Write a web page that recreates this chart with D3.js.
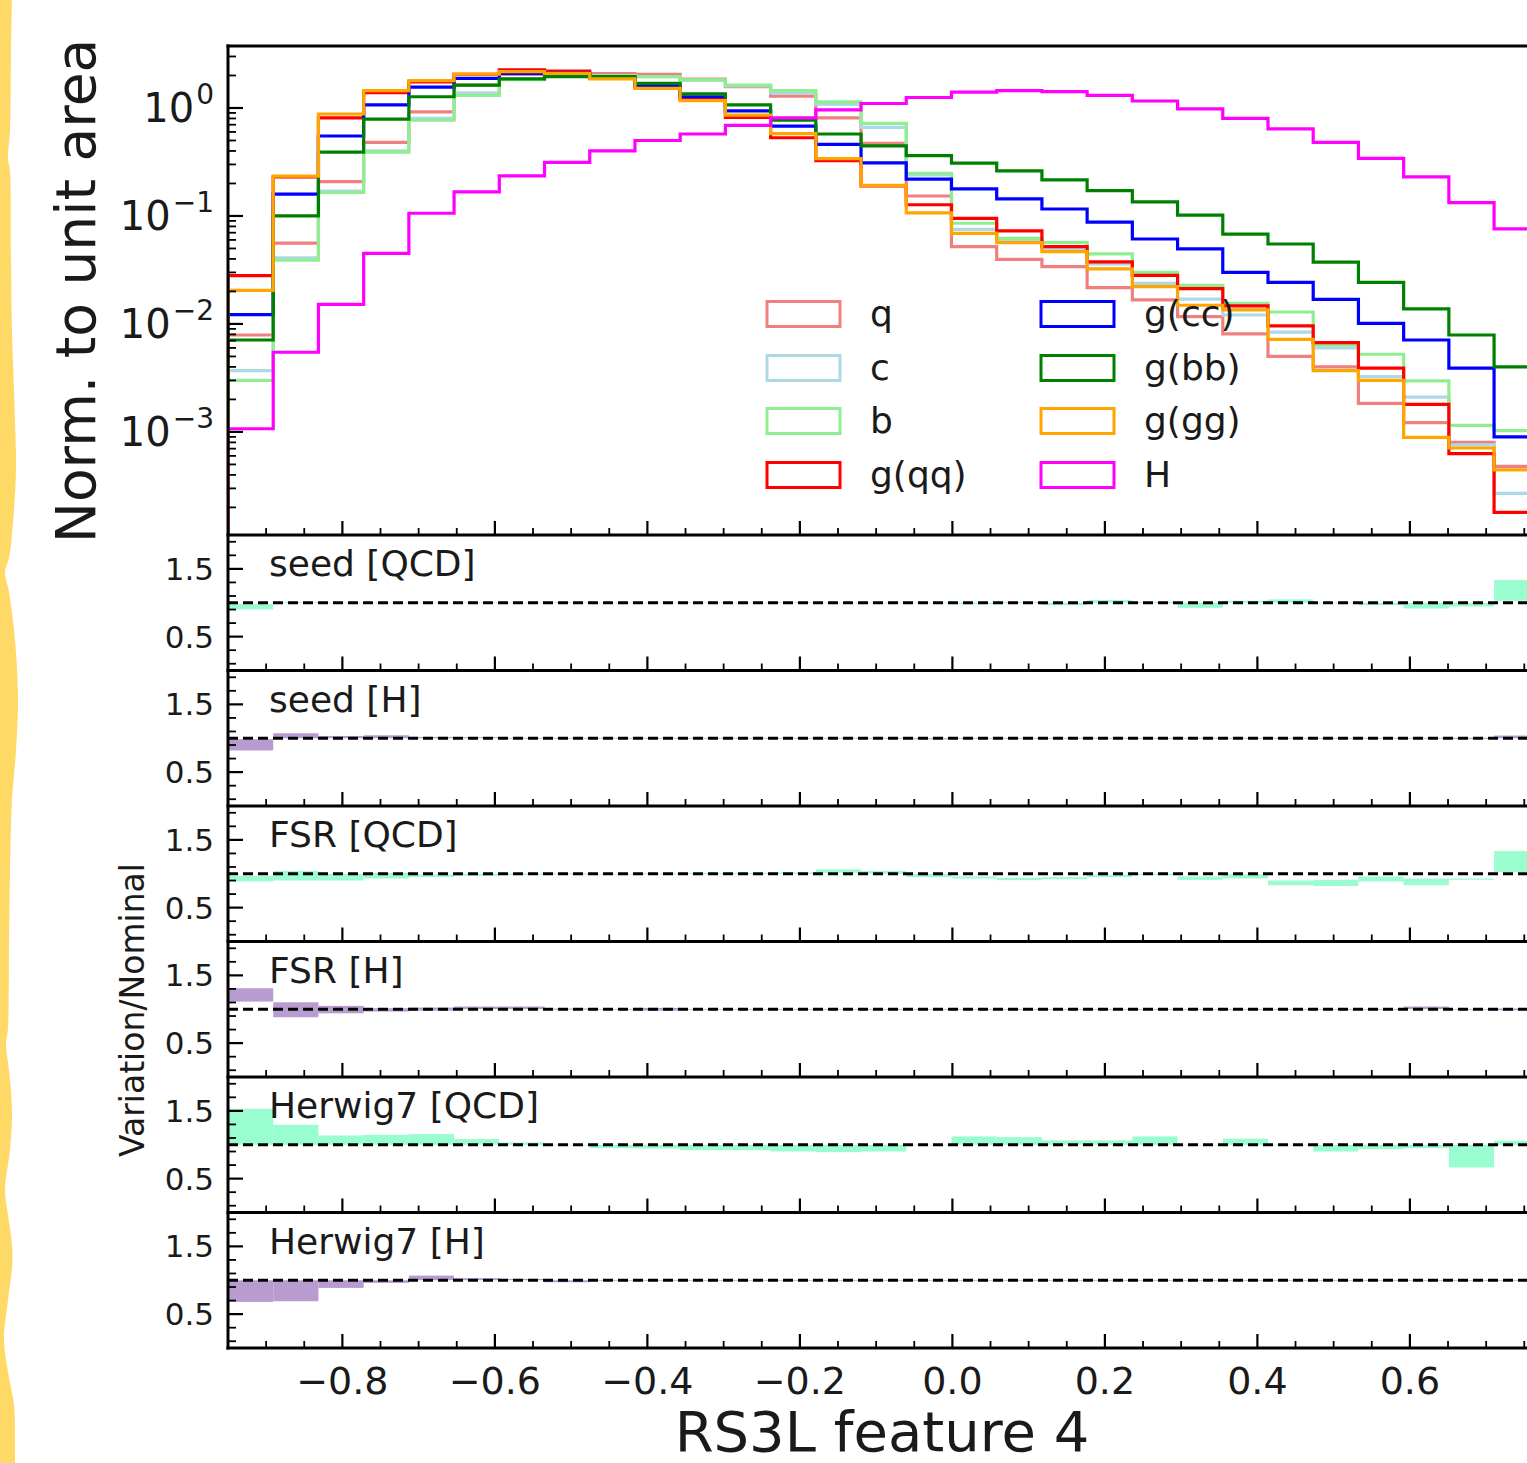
<!DOCTYPE html>
<html><head><meta charset="utf-8">
<script src="https://cdn.jsdelivr.net/npm/d3@7"></script>
<style>body{margin:0;background:#fff;overflow:hidden}svg{display:block;font-family:"DejaVu Sans",sans-serif}</style>
</head><body><svg id="c" width="1527" height="1463"></svg>
<script>
// ---------------- data ----------------
const binEdges = [-0.95,-0.8907,-0.8314,-0.7721,-0.7128,-0.6535,-0.5942,-0.5349,-0.4756,-0.4163,-0.357,-0.2977,-0.2384,-0.1791,-0.1198,-0.0605,-0.0012,0.0581,0.1174,0.1767,0.236,0.2953,0.3546,0.4139,0.4732,0.5325,0.5918,0.6511,0.7104,0.7697];
const seriesNames = ["q","c","b","g(qq)","g(cc)","g(bb)","g(gg)","H"];
const q   = [0.0079,0.056,0.208,0.48,0.92,1.63,2.05,2.12,2.08,2.05,1.85,1.58,1.29,0.81,0.47,0.153,0.052,0.0397,0.034,0.0217,0.0167,0.0117,0.0081,0.005,0.004,0.00184,0.00122,0.0008,0.00048];
const c   = [0.0037,0.041,0.17,0.40,0.80,1.38,1.85,1.98,1.98,1.95,1.80,1.6,1.38,1.08,0.66,0.24,0.075,0.06,0.05,0.036,0.0238,0.017,0.0121,0.0084,0.006,0.00325,0.0021,0.00076,0.00027];
const b   = [0.0030,0.039,0.165,0.39,0.77,1.31,1.83,1.97,1.98,1.95,1.82,1.63,1.45,1.14,0.72,0.248,0.0856,0.062,0.0569,0.0445,0.030,0.0228,0.0155,0.0129,0.0064,0.00524,0.00297,0.00115,0.00103];
const gqq = [0.028,0.23,0.81,1.39,1.74,2.05,2.25,2.2,1.88,1.55,1.2,0.82,0.53,0.325,0.19,0.127,0.095,0.0727,0.052,0.0375,0.0282,0.0212,0.0147,0.0096,0.0067,0.0039,0.0018,0.00063,0.00018];
const gcc = [0.0122,0.159,0.55,1.07,1.56,1.88,2.09,2.1,1.9,1.6,1.27,0.94,0.68,0.46,0.31,0.219,0.178,0.144,0.116,0.0875,0.0612,0.0495,0.030,0.0243,0.0169,0.0101,0.0071,0.0039,0.0009];
const gbb = [0.0071,0.10,0.39,0.79,1.27,1.63,1.86,1.95,1.95,1.69,1.35,1.07,0.77,0.574,0.445,0.362,0.308,0.261,0.216,0.172,0.135,0.102,0.068,0.055,0.0373,0.0243,0.0138,0.0079,0.0040];
const ggg = [0.0205,0.234,0.88,1.45,1.79,2.06,2.17,2.09,1.86,1.52,1.17,0.86,0.58,0.34,0.192,0.107,0.069,0.0566,0.0467,0.0323,0.0222,0.0149,0.0135,0.0072,0.0037,0.0030,0.00089,0.00071,0.000445];
const hig = [0.00107,0.00547,0.0152,0.045,0.106,0.167,0.235,0.314,0.40,0.50,0.574,0.69,0.81,0.96,1.10,1.25,1.40,1.45,1.42,1.31,1.16,0.98,0.80,0.64,0.48,0.342,0.23,0.133,0.076];

const panelNames = ["seed [QCD]","seed [H]","FSR [QCD]","FSR [H]","Herwig7 [QCD]","Herwig7 [H]"];
const seedQCD_lo = [0.90,0.995,0.995,0.995,0.995,1.0,0.995,1.0,0.995,0.995,1.0,0.995,0.995,0.995,0.99,0.995,0.98,0.995,0.965,1.0,0.995,0.925,1.0,1.0,0.99,0.965,0.915,0.945,1.03];
const seedQCD_hi = [0.98,1.005,1.0,1.0,1.0,1.005,1.0,1.005,1.0,1.0,1.005,1.0,1.005,1.0,1.0,1.0,1.0,1.01,1.0,1.04,1.01,1.0,1.03,1.05,1.0,1.0,1.0,1.0,1.335];
const seedH_lo = [0.82,1.0,1.0,1.0,1.0,1.0,0.995,0.995,0.995,0.995,0.995,0.995,0.995,0.995,0.995,0.985,0.99,0.99,0.995,0.995,0.99,0.995,0.995,0.995,0.99,0.995,0.995,0.99,1.0];
const seedH_hi = [0.985,1.074,1.034,1.044,1.02,1.015,1.005,1.005,1.005,1.005,1.005,1.005,1.005,1.005,1.005,1.0,1.0,1.0,1.005,1.005,1.0,1.005,1.005,1.005,1.0,1.005,1.005,1.005,1.04];
const fsrQCD_lo = [0.885,0.90,0.90,0.93,0.95,0.97,0.985,0.99,0.99,0.99,0.995,0.995,1.0,1.015,1.0,0.95,0.93,0.905,0.92,0.95,0.98,0.91,0.93,0.83,0.82,0.885,0.83,0.91,1.025];
const fsrQCD_hi = [0.97,1.04,0.995,1.015,0.99,1.0,1.005,1.005,1.0,1.005,1.01,1.01,1.02,1.065,1.04,0.995,0.96,0.94,0.95,0.985,1.0,0.96,0.99,0.90,0.91,0.96,0.93,0.93,1.335];
const fsrH_lo = [1.113,0.882,0.94,0.966,0.98,1.0,1.0,0.995,0.995,0.98,0.995,0.995,0.995,0.995,0.995,0.995,0.995,0.995,0.995,0.995,0.995,0.995,0.995,0.995,0.995,0.995,1.0,0.995,0.985];
const fsrH_hi = [1.31,1.103,1.05,1.015,1.025,1.04,1.04,1.01,1.005,1.02,1.005,1.005,1.005,1.005,1.005,1.005,1.005,1.005,1.005,1.005,1.005,1.005,1.005,1.005,1.005,1.005,1.04,1.005,1.01];
const herwigQCD = [1.53,1.295,1.138,1.148,1.157,1.084,1.034,1.0,0.95,0.945,0.92,0.92,0.90,0.89,0.90,1.0,1.123,1.113,1.064,1.064,1.123,1.0,1.089,1.0,0.90,0.936,0.95,0.665,1.06];
const herwigH = [0.68,0.69,0.887,0.96,1.069,1.03,1.02,0.97,0.995,1.0,0.995,1.0,1.0,1.0,1.0,1.0,1.0,0.995,1.0,1.0,0.995,1.0,1.0,1.0,0.995,1.0,1.0,1.0,1.0];

const xMajorTicks = [-0.8,-0.6,-0.4,-0.2,0.0,0.2,0.4,0.6];
const xTickLabels = ["\u22120.8","\u22120.6","\u22120.4","\u22120.2","0.0","0.2","0.4","0.6"];
const yLogMajor = [1e-3,1e-2,1e-1,1e0];
const yLogLabels = [["10","\u22123"],["10","\u22122"],["10","\u22121"],["10","0"]];
const ratioMajor = [0.5,1.5];
const ratioLabels = ["0.5","1.5"];
const ratioMinor = [0.1,0.3,0.7,0.9,1.1,1.3,1.7,1.9];

// ---------------- styles ----------------
const seriesColors = ["#F08080","#ADD8E6","#90EE90","#FF0000","#0000FF","#008000","#FFA500","#FF00FF"];
const qcdFill = "#9AFDD0", hFill = "#B89CD0";

// ---------------- build ----------------
const seriesVals = [q,c,b,gqq,gcc,gbb,ggg,hig];
const panels = [
  {lo:seedQCD_lo, hi:seedQCD_hi, fill:qcdFill},
  {lo:seedH_lo, hi:seedH_hi, fill:hFill},
  {lo:fsrQCD_lo, hi:fsrQCD_hi, fill:qcdFill},
  {lo:fsrH_lo, hi:fsrH_hi, fill:hFill},
  {lo:herwigQCD.map(v=>Math.min(1,v)), hi:herwigQCD.map(v=>Math.max(1,v)), fill:qcdFill},
  {lo:herwigH.map(v=>Math.min(1,v)), hi:herwigH.map(v=>Math.max(1,v)), fill:hFill}
];

const svg = d3.select("#c");
const W = 1527, H = 1463;
const L = 228, MT = 46, MB = 535, PH = 135.5, PX = 1600;
const x = d3.scaleLinear().domain([-0.95, 0.8]).range([228, 1562.4]);
const y = d3.scaleLog().domain([1.11e-4, 3.75]).range([MB, MT]);
const ink = "#1a1a1a";

// decorative torn strip on the left
const stripPts = [[12,0],[11,55],[10,130],[8,158],[10,172],[11,260],[12,330],[15,420],[16,470],[12,535],[9,558],[5,572],[9,592],[15,640],[18,700],[16,750],[12,800],[10,870],[9,950],[8,1028],[6,1045],[9,1070],[12,1110],[10,1150],[5,1190],[8,1215],[12,1245],[12,1268],[8,1300],[4,1340],[8,1372],[14,1405],[15,1440],[15,1463]];
const stripLine = d3.line().curve(d3.curveCatmullRom)(stripPts);
svg.append("path").attr("d", "M0,0 L" + stripLine.slice(1) + " L0,1463 Z").attr("fill", "#FFD966");

const defs = svg.append("defs");
defs.append("clipPath").attr("id","cm").append("rect").attr("x",L).attr("y",MT).attr("width",PX).attr("height",MB-MT);

// histograms
const gh = svg.append("g").attr("clip-path","url(#cm)");
const line = d3.line().x(d=>x(d[0])).y(d=>y(d[1]));
seriesVals.forEach((vals,k)=>{
  const pts = [[binEdges[0], 1e-7]];
  vals.forEach((v,i)=>{ pts.push([binEdges[i], v]); pts.push([binEdges[i+1], v]); });
  pts.push([binEdges[binEdges.length-1], 1e-7]);
  gh.append("path").attr("d", line(pts)).attr("fill","none")
    .attr("stroke", seriesColors[k]).attr("stroke-width", 3.2).attr("stroke-linejoin","miter");
});

// legend
const legRows = [314, 368, 421, 475];
seriesNames.forEach((n,k)=>{
  const col = Math.floor(k/4), row = k%4;
  const hx = col===0 ? 767 : 1041, tx = col===0 ? 870 : 1144;
  svg.append("rect").attr("x",hx).attr("y",legRows[row]-12.5).attr("width",73).attr("height",25)
    .attr("fill","none").attr("stroke",seriesColors[k]).attr("stroke-width",3);
  svg.append("text").attr("x",tx).attr("y",legRows[row]+12).attr("font-size",36).attr("fill",ink).text(n);
});

// main axis ticks
const tick = (x1,y1,x2,y2,w)=>svg.append("line").attr("x1",x1).attr("y1",y1).attr("x2",x2).attr("y2",y2).attr("stroke","#000").attr("stroke-width",w);
const yMinor = [];
[1e-4,1e-3,1e-2,1e-1,1].forEach(d=>{ for (let m=2;m<=9;m++){ const v=m*d; if (v>y.domain()[0] && v<y.domain()[1]) yMinor.push(v);} });
yMinor.forEach(v=>tick(L, y(v), L+8, y(v), 1.8));
yLogMajor.forEach((v,i)=>{
  tick(L, y(v), L+15, y(v), 2.2);
  const t = svg.append("text").attr("x",L-14).attr("y",y(v)+14).attr("text-anchor","end").attr("font-size",40).attr("fill",ink);
  t.append("tspan").text(yLogLabels[i][0]);
  t.append("tspan").attr("font-size",28).attr("dx",2).attr("dy",-18).text(yLogLabels[i][1]);
});

function xTicks(bottom, withLabels){
  for (let k=-19;k<=16;k++){ const v=k*0.05; if (Math.abs(Math.round(v*5)-v*5)<1e-6) continue; if (x(v)>L) tick(x(v), bottom, x(v), bottom-7, 1.8); }
  tick(x(0.8), bottom, x(0.8), bottom-14, 2.2);
  xMajorTicks.forEach((v,i)=>{
    tick(x(v), bottom, x(v), bottom-14, 2.2);
    if (withLabels) svg.append("text").attr("x",x(v)).attr("y",bottom+46).attr("text-anchor","middle").attr("font-size",38).attr("fill",ink).text(xTickLabels[i]);
  });
}
xTicks(MB, false);

// ratio panels
panels.forEach((p,pi)=>{
  const top = MB + pi*PH, bot = top + PH;
  const yr = d3.scaleLinear().domain([0,2]).range([bot, top]);
  const cid = "cp"+pi;
  defs.append("clipPath").attr("id",cid).append("rect").attr("x",L).attr("y",top).attr("width",PX).attr("height",PH);
  const g = svg.append("g").attr("clip-path",`url(#${cid})`);
  p.lo.forEach((lo,i)=>{
    const hi = p.hi[i];
    g.append("rect").attr("x", x(binEdges[i])).attr("width", x(binEdges[i+1])-x(binEdges[i]))
      .attr("y", yr(hi)).attr("height", Math.max(0.6, yr(lo)-yr(hi))).attr("fill", p.fill);
  });
  g.append("line").attr("x1",L).attr("x2",L+PX).attr("y1",yr(1)).attr("y2",yr(1))
    .attr("stroke","#000").attr("stroke-width",2.8).attr("stroke-dasharray","10,5");
  svg.append("text").attr("x",269).attr("y",top+41).attr("font-size",36).attr("fill",ink).text(panelNames[pi]);
  ratioMinor.forEach(v=>tick(L, yr(v), L+8, yr(v), 1.8));
  ratioMajor.forEach((v,i)=>{
    tick(L, yr(v), L+15, yr(v), 2.2);
    svg.append("text").attr("x",L-14).attr("y",yr(v)+11).attr("text-anchor","end").attr("font-size",31).attr("fill",ink).text(ratioLabels[i]);
  });
  xTicks(bot, pi===panels.length-1);
});

// spines
const spine = (x1,y1,x2,y2)=>svg.append("line").attr("x1",x1).attr("y1",y1).attr("x2",x2).attr("y2",y2).attr("stroke","#000").attr("stroke-width",3);
spine(L, MT-1.5, L, MB + 6*PH + 1.5);
spine(L-1.5, MT, W+5, MT);
for (let i=0;i<=6;i++) spine(L-1.5, MB+i*PH, W+5, MB+i*PH);

// axis labels
svg.append("text").attr("transform","translate(95,291) rotate(-90)").attr("text-anchor","middle").attr("font-size",55).attr("fill",ink).text("Norm. to unit area");
svg.append("text").attr("transform","translate(144,1010) rotate(-90)").attr("text-anchor","middle").attr("font-size",33).attr("fill",ink).text("Variation/Nominal");
svg.append("text").attr("x",882).attr("y",1451).attr("text-anchor","middle").attr("font-size",56).attr("fill",ink).text("RS3L feature 4");
</script>
</body></html>
